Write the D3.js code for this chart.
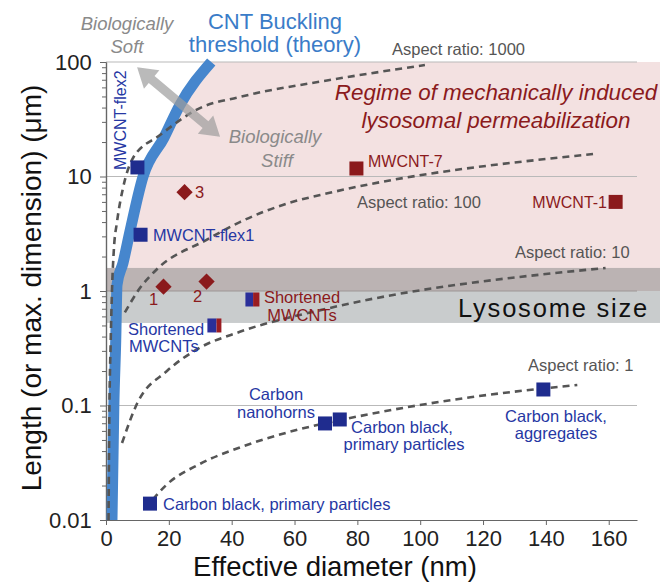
<!DOCTYPE html>
<html><head><meta charset="utf-8">
<script src="https://cdn.jsdelivr.net/npm/d3@7"></script>
<style>
body{margin:0;background:#fff}
svg{display:block}
text{font-family:"Liberation Sans",Arial,Helvetica,sans-serif}
</style>
</head><body>
<svg id="c" width="662" height="583"></svg>
<script>
// ---------- data ----------
const xTicks = [0, 20, 40, 60, 80, 100, 120, 140, 160];
const yTicks = [0.01, 0.1, 1, 10, 100];
const yTickLabels = ["0.01", "0.1", "1", "10", "100"];

// CNT buckling threshold (theory): effective diameter (nm) vs length (um)
const bucklingD = [1.9, 2.5, 3.1, 3.5, 5.4, 7.6, 11.8, 18.4, 23.5, 33.5];
const bucklingL = [0.01, 0.1, 0.37, 1.13, 1.75, 3.3, 10, 21.7, 42, 100];

// Aspect-ratio guide curves
const ar1000D = [0.8, 1.1, 1.5, 1.9, 2.5, 3.5, 5.4, 8.6, 17.2, 29.9, 42.6, 71.2, 101.5];
const ar1000L = [0.01, 0.1, 0.37, 1.0, 2.3, 4.0, 7.9, 14.5, 23, 39.6, 49.5, 69.6, 94];
const ar100D = [6, 10.8, 16.2, 32, 42.6, 58.5, 71.2, 155];
const ar100L = [0.65, 1.06, 1.55, 2.8, 4.0, 5.9, 7.2, 15.7];
const ar10D = [5.1, 9.9, 19.4, 29.9, 42.6, 71.2, 159];
const ar10L = [0.047, 0.104, 0.2, 0.32, 0.44, 0.71, 1.59];
const ar1D = [12.5, 19, 30, 42.6, 58.5, 77, 116, 150];
const ar1L = [0.0125, 0.02, 0.031, 0.043, 0.059, 0.077, 0.118, 0.151];

// Square markers
const squareNames = ["MWCNT-flex2", "MWCNT-flex1", "MWCNT-7", "MWCNT-1", "Carbon nanohorns",
  "Carbon black, primary particles", "Carbon black, aggregates", "Carbon black, primary particles"];
const squareD = [10, 11, 79.7, 162.2, 69.7, 74.4, 139.2, 14];
const squareL = [12, 3.1, 11.75, 6.0, 0.0697, 0.0755, 0.138, 0.0139];
const squareGroup = ["blue", "blue", "red", "red", "blue", "blue", "blue", "blue"];

// Half blue / half red squares (Shortened MWCNTs)
const halfD = [46.6, 34.5];
const halfL = [0.843, 0.5];
const halfRedShare = [0.45, 0.35];

// Diamonds (numbered samples)
const diamondLabels = ["1", "2", "3"];
const diamondD = [18.3, 32, 25];
const diamondL = [1.09, 1.21, 7.3];

// Regions
const regimeL = [1, 100];        // mechanically induced permeabilization
const lysosomeL = [0.526, 1.59];  // lysosome size band

// ---------- drawing ----------
const svg = d3.select("#c");
const x = d3.scaleLinear().domain([0, 169]).range([106, 637]);
const y = d3.scaleLog().domain([0.01, 100]).range([520, 62]);
const RIGHT = 660;

const BLUE_MARK = "#1f2c8e", BLUE_TXT = "#2637a3", RED = "#8b1a1c", GRAY_TXT = "#555";
const pts = (D, L) => D.map((d, i) => [x(d), y(L[i])]);
const lineGen = d3.line().curve(d3.curveMonotoneX);

// pink regime region (right of the buckling curve)
const bPts = pts(bucklingD, bucklingL);
const startD = d3.scaleLog().domain([bucklingL[2], bucklingL[3]]).range([bucklingD[2], bucklingD[3]])(regimeL[0]);
const pinkBoundary = [[x(startD), y(regimeL[0])]].concat(bPts.filter((p, i) => bucklingL[i] > regimeL[0]));
svg.append("path")
  .attr("d", lineGen(pinkBoundary) + `L${RIGHT},${y(regimeL[1])}L${RIGHT},${y(regimeL[0])}Z`)
  .attr("fill", "#f3e1e1");

// lysosome band: upper (overlapping pink) and lower part
svg.append("rect").attr("x", x(0)).attr("width", RIGHT - x(0))
  .attr("y", y(lysosomeL[1])).attr("height", y(regimeL[0]) - y(lysosomeL[1]))
  .attr("fill", "#bbb3b3");
svg.append("rect").attr("x", x(0)).attr("width", RIGHT - x(0))
  .attr("y", y(regimeL[0])).attr("height", y(lysosomeL[0]) - y(regimeL[0]))
  .attr("fill", "#c9cccd");

// gridlines
svg.append("g").selectAll("line").data([100, 10, 1, 0.1]).join("line")
  .attr("x1", x(0)).attr("x2", x(169))
  .attr("y1", d => y(d)).attr("y2", d => y(d))
  .attr("stroke", d => d === 1 ? "#9d9595" : "#b9b9b9").attr("stroke-width", 1);

// axes
const minor = [];
for (let e = -2; e < 2; e++) for (let m = 2; m <= 9; m++) minor.push(m * Math.pow(10, e));
const gyMinor = svg.append("g").attr("transform", `translate(${x(0)},0)`)
  .call(d3.axisLeft(y).tickValues(minor).tickSize(4).tickSizeOuter(0).tickFormat(""));
const gy = svg.append("g").attr("transform", `translate(${x(0)},0)`)
  .call(d3.axisLeft(y).tickValues(yTicks).tickSize(6).tickSizeOuter(0).tickPadding(6)
    .tickFormat((d, i) => yTickLabels[i]));
const gx = svg.append("g").attr("transform", `translate(0,${y(0.01)})`)
  .call(d3.axisBottom(x).tickValues(xTicks).tickSize(5).tickSizeOuter(0).tickPadding(5));
[gy, gx, gyMinor].forEach(g => {
  g.selectAll(".domain").attr("stroke", "#666").attr("stroke-width", 1.2);
  g.selectAll(".tick line").attr("stroke", "#666");
  g.selectAll("text").attr("fill", "#222").style("font-size", "22px")
    .style("font-family", '"Liberation Sans",Arial,sans-serif');
});
gy.selectAll("text").attr("dx", "-0.1em");

// buckling curve
svg.append("path").attr("d", lineGen(bPts))
  .attr("fill", "none").attr("stroke", "#4686cd").attr("stroke-width", 11);

// aspect ratio dashed curves
[[ar1000D, ar1000L], [ar100D, ar100L], [ar10D, ar10L], [ar1D, ar1L]].forEach(([D, L]) => {
  svg.append("path").attr("d", lineGen(pts(D, L)))
    .attr("fill", "none").attr("stroke", "#555").attr("stroke-width", 2.6)
    .attr("stroke-dasharray", "7,5");
});

// double-headed arrow (Biologically Soft <-> Stiff)
(function () {
  const a = [x(9.9), y(90)], b = [x(36.3), y(22.2)];
  const dx = b[0] - a[0], dy = b[1] - a[1], len = Math.hypot(dx, dy);
  const ux = dx / len, uy = dy / len, nx = -uy, ny = ux;
  const hl = 19, hw = 12, sw = 4.5;
  const P = (p, s, t) => [p[0] + ux * s + nx * t, p[1] + uy * s + ny * t];
  const poly = [
    a, P(a, hl, hw), P(a, hl, sw), P(b, -hl, sw), P(b, -hl, hw), b,
    P(b, -hl, -hw), P(b, -hl, -sw), P(a, hl, -sw), P(a, hl, -hw)
  ];
  svg.append("path").attr("d", "M" + poly.map(p => p.join(",")).join("L") + "Z")
    .attr("fill", "#9c9c9c").attr("fill-opacity", 0.7);
})();

// square markers
const S = 14;
svg.append("g").selectAll("rect").data(squareD).join("rect")
  .attr("x", (d, i) => x(d) - S / 2).attr("y", (d, i) => y(squareL[i]) - S / 2)
  .attr("width", S).attr("height", S)
  .attr("fill", (d, i) => squareGroup[i] === "blue" ? BLUE_MARK : RED);

// half squares
halfD.forEach((d, i) => {
  const cx = x(d), cy = y(halfL[i]);
  const rw = S * halfRedShare[i];
  svg.append("rect").attr("x", cx - S / 2).attr("y", cy - S / 2).attr("width", S - rw).attr("height", S).attr("fill", "#2a2f9a");
  svg.append("rect").attr("x", cx + S / 2 - rw).attr("y", cy - S / 2).attr("width", rw).attr("height", S).attr("fill", "#9a1c22");
});

// diamonds
const DS = 11.5;
svg.append("g").selectAll("rect").data(diamondD).join("rect")
  .attr("x", -DS / 2).attr("y", -DS / 2).attr("width", DS).attr("height", DS)
  .attr("transform", (d, i) => `translate(${x(d)},${y(diamondL[i])}) rotate(45)`)
  .attr("fill", RED);

// ---------- text ----------
function txt(s, px, py, o) {
  const t = svg.append("text").attr("x", px).attr("y", py).text(s)
    .style("font-size", (o.size || 16) + "px").attr("fill", o.fill || "#000")
    .attr("text-anchor", o.anchor || "start");
  if (o.italic) t.style("font-style", "italic");
  if (o.ls) t.style("letter-spacing", o.ls + "px");
  if (o.rot) t.attr("transform", `rotate(${o.rot},${px},${py})`);
  return t;
}
const CNTB = "#3a7cc8";
txt("CNT Buckling", 275, 29, {size: 22, fill: CNTB, anchor: "middle"});
txt("threshold (theory)", 275, 52, {size: 22, fill: CNTB, anchor: "middle"});
txt("Biologically", 127, 30, {size: 18.5, fill: "#8a8a8a", anchor: "middle", italic: true});
txt("Soft", 127, 53, {size: 18.5, fill: "#8a8a8a", anchor: "middle", italic: true});
txt("Biologically", 275, 143, {size: 18.5, fill: "#8a8a8a", anchor: "middle", italic: true});
txt("Stiff", 277, 167, {size: 18.5, fill: "#8a8a8a", anchor: "middle", italic: true});

txt("Aspect ratio: 1000", 392, 55, {size: 16.5, fill: GRAY_TXT});
txt("Aspect ratio: 100", 357, 208, {size: 16.5, fill: GRAY_TXT});
txt("Aspect ratio: 10", 515, 258, {size: 16.5, fill: GRAY_TXT});
txt("Aspect ratio: 1", 528, 371, {size: 16.5, fill: GRAY_TXT});

txt("Regime of mechanically induced", 496, 100, {size: 22.4, fill: RED, anchor: "middle", italic: true});
txt("lysosomal permeabilization", 496, 128, {size: 22.4, fill: RED, anchor: "middle", italic: true});
txt("Lysosome size", 458, 317, {size: 25.5, fill: "#111", ls: 1.8});

txt("MWCNT-7", 368, 167, {size: 16, fill: RED});
txt("MWCNT-1", 607, 208, {size: 16, fill: RED, anchor: "end"});
txt("Shortened", 302, 303, {size: 16.5, fill: RED, anchor: "middle"});
txt("MWCNTs", 302, 321, {size: 16.5, fill: RED, anchor: "middle"});
txt("1", 153.5, 305, {size: 16.5, fill: RED, anchor: "middle"});
txt("2", 197.5, 302, {size: 16.5, fill: RED, anchor: "middle"});
txt("3", 195, 198, {size: 16.5, fill: RED});

txt("MWCNT-flex2", 126, 170, {size: 16, fill: BLUE_TXT, rot: -90});
txt("MWCNT-flex1", 153, 241, {size: 16.3, fill: BLUE_TXT});
txt("Shortened", 128, 335, {size: 16.5, fill: BLUE_TXT});
txt("MWCNTs", 129, 352, {size: 16.5, fill: BLUE_TXT});
txt("Carbon", 276, 400, {size: 16.5, fill: BLUE_TXT, anchor: "middle"});
txt("nanohorns", 276, 418, {size: 16.5, fill: BLUE_TXT, anchor: "middle"});
txt("Carbon black,", 402, 433, {size: 16.5, fill: BLUE_TXT, anchor: "middle"});
txt("primary particles", 404, 450, {size: 16.5, fill: BLUE_TXT, anchor: "middle"});
txt("Carbon black,", 556, 422, {size: 16.5, fill: BLUE_TXT, anchor: "middle"});
txt("aggregates", 556, 439, {size: 16.5, fill: BLUE_TXT, anchor: "middle"});
txt("Carbon black, primary particles", 163, 510, {size: 16.5, fill: BLUE_TXT});

// axis titles
txt("Effective diameter (nm)", 335, 576, {size: 27.5, fill: "#111", anchor: "middle"});
txt("Length (or max. dimension) (\u03bcm)", 41, 288, {size: 28, fill: "#111", anchor: "middle", rot: -90});
</script>
</body></html>
